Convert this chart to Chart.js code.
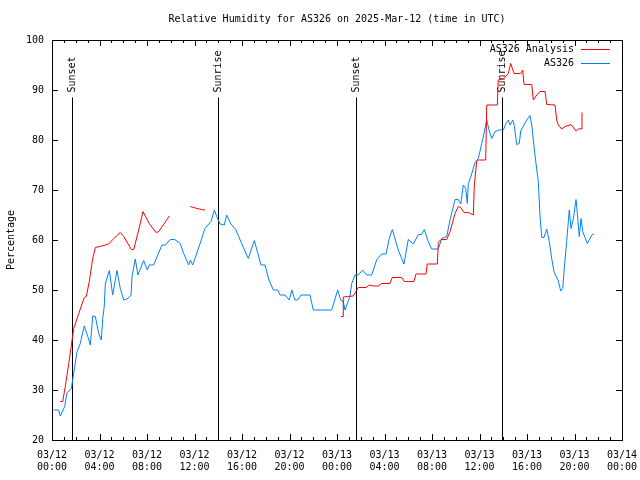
<!DOCTYPE html>
<html>
<head>
<meta charset="utf-8">
<script src="https://cdn.jsdelivr.net/npm/chart.js@4"></script>
<style>
html, body { margin: 0; padding: 0; background: #fff; }
</style>
</head>
<body>
<canvas id="c" width="640" height="480"></canvas>
<script>
// x values are hours since 2025-03-12 00:00 UTC
const tickDates = ["03/12", "03/12", "03/12", "03/12", "03/12", "03/12", "03/13", "03/13", "03/13", "03/13", "03/13", "03/13", "03/14"];
const tickTimes = ["00:00", "04:00", "08:00", "12:00", "16:00", "20:00", "00:00", "04:00", "08:00", "12:00", "16:00", "20:00", "00:00"];

const obsHours = [0.14, 0.56, 0.70, 1.07, 1.26, 1.63, 1.83, 2.11, 2.38, 2.72, 3.01, 3.23, 3.43, 3.65, 3.93, 4.15, 4.27, 4.40, 4.49, 4.83,
  5.11, 5.47, 5.75, 6.04, 6.32, 6.65, 6.74, 7.01, 7.24, 7.72, 8.03, 8.19, 8.56, 9.26, 9.54, 9.96, 10.33, 10.80, 11.09, 11.51,
  11.65, 11.85, 12.04, 12.57, 12.74, 12.88, 13.39, 13.67, 13.87, 14.15, 14.51, 14.71, 15.07, 15.47, 15.97, 16.53, 17.04, 17.60, 17.94, 18.27,
  18.64, 19.01, 19.20, 19.62, 19.98, 20.19, 20.46, 20.69, 20.97, 21.73, 22.00, 23.55, 24.06, 24.31, 24.53, 24.67, 25.09, 25.24, 25.52, 25.79,
  26.16, 26.50, 26.92, 27.34, 27.76, 28.13, 28.40, 28.66, 29.16, 29.64, 30.00, 30.43, 30.85, 31.13, 31.35, 31.69, 31.97, 32.53, 32.82, 33.24,
  33.52, 33.94, 34.21, 34.42, 34.64, 34.84, 34.97, 35.06, 35.28, 35.62, 35.90, 36.19, 36.38, 36.61, 36.80, 37.03, 37.31, 37.67, 38.01, 38.23,
  38.43, 38.57, 38.80, 38.93, 39.13, 39.35, 39.47, 39.75, 39.97, 40.25, 40.40, 40.67, 40.95, 41.09, 41.24, 41.43, 41.66, 41.88, 42.08, 42.27,
  42.64, 42.84, 43.01, 43.14, 43.34, 43.56, 43.71, 43.91, 44.13, 44.24, 44.40, 44.55, 44.69, 45.08, 45.45, 45.64];
const obsValues = [26, 26, 24.8, 26.7, 29.4, 30.3, 33.4, 37.7, 39.3, 42.8, 40.7, 39, 44.8, 44.7, 41.3, 40, 44.3, 46.7, 51.3, 53.9,
  49, 53.9, 50.3, 48, 48.2, 48.9, 52.7, 56.2, 53, 55.9, 54, 55, 55, 59, 59, 60.1, 60.1, 59.3, 57.3, 55,
  56, 55, 56.3, 60, 61.3, 62.3, 63.7, 66, 64.7, 63.2, 63, 65, 63.2, 62.1, 59.3, 56.3, 59.9, 55, 55, 52,
  50, 50, 49, 49, 48, 50, 48, 48, 49, 49, 46, 46, 50, 48, 47.7, 46, 48.7, 51.3, 53, 53,
  54, 53, 53, 56, 57.2, 57.2, 60.3, 62.1, 58, 55.2, 60.1, 59.2, 61.1, 61.1, 62.1, 59.7, 58.2, 58.2, 60.3, 60.7,
  64, 68.1, 68.1, 67.2, 71, 70.3, 67.3, 71.3, 72.7, 75.5, 76.3, 79.3, 81.3, 84, 82, 80.3, 81.7, 82, 82, 83.3,
  84, 83, 84, 82.9, 79.1, 79.3, 81.8, 83, 84, 84.9, 83, 77, 71.7, 65, 60.5, 60.5, 62.2, 59.7, 56.3, 53.7,
  51.8, 49.8, 50.3, 54.3, 59.7, 66, 62.3, 64.3, 68.1, 65.3, 60.7, 64.3, 61.7, 59.3, 61, 61.2];

const anaHours = [0.70, 0.90, 1.12, 1.41, 1.83, 2.25, 2.72, 2.89, 3.14, 3.43, 3.65, 4.21, 4.77, 5.20, 5.75, 6.04, 6.68, 6.88, 7.30, 7.66,
  8.19, 8.76, 8.99, 9.88, 10.5, 11.65, 12.07, 12.57, 12.88, 20.0,
  24.34, 24.51, 24.53, 24.95, 25.37, 25.60, 25.79, 26.44, 26.72, 27.06, 27.48, 27.76, 28.46, 28.66, 29.45, 29.67, 30.48, 30.65, 31.49, 31.60,
  32.45, 32.53, 32.76, 33.24, 33.52, 33.94, 34.21, 34.42, 34.69, 35.06, 35.48, 35.56, 35.76, 35.90, 36.52, 36.61, 37.50, 37.58, 38.01, 38.43,
  38.63, 38.91, 39.47, 39.64, 39.75, 40.40, 40.53, 40.82, 41.09, 41.52, 41.66, 42.36, 42.50, 42.64, 42.92, 43.20, 43.71, 44.13, 44.40, 44.55, 44.63];
const anaValues = [27.7, 27.7, 30.7, 35.3, 42.3, 45.3, 48.5, 48.7, 51.7, 56.3, 58.5, 58.8, 59.2, 60.3, 61.5, 60.7, 58.1, 58.1, 62, 65.7,
  63.3, 61.5, 61.7, 64.8, null, 66.7, 66.4, 66.1, 66.0, null,
  44.7, 44.7, 48.6, 48.7, 48.8, 49.7, 50.5, 50.5, 51, 50.8, 50.8, 51.3, 51.3, 52.5, 52.5, 51.7, 51.7, 53.2, 53.2, 55.2,
  55.2, 59.5, 60.1, 60.1, 61.7, 65.3, 66.7, 66.5, 65.5, 65.5, 65, 70.8, 75.7, 76, 76, 87, 87, 92, 92.3, 93.3,
  95.3, 93.3, 93.3, 94, 91.1, 91.1, 88, 89, 89.7, 89.7, 87.1, 87, 84, 83, 82.2, 82.7, 83.1, 81.8, 82.3, 82.2, 85.5];

const sunHours = [1.68, 13.98, 25.6, 37.9];
const sunLabels = ["Sunset", "Sunrise", "Sunset", "Sunrise"];
const sunLineTop = 88.5;

const FONT = "10px 'DejaVu Sans Mono'";

function toPoints(xs, ys) {
  return xs.map((x, i) => ({ x: x, y: ys[i] }));
}

const gnuplotBits = {
  id: "gnuplotBits",
  beforeDatasetsDraw(chart) {
    const ctx = chart.ctx;
    const xs = chart.scales.x, ys = chart.scales.y;
    const bottom = chart.chartArea.bottom;
    const yTop = ys.getPixelForValue(sunLineTop);
    ctx.save();
    ctx.strokeStyle = "#000";
    ctx.fillStyle = "#000";
    ctx.lineWidth = 1;
    ctx.font = FONT;
    sunHours.forEach((h, i) => {
      const px = Math.round(xs.getPixelForValue(h)) + 0.5;
      ctx.beginPath();
      ctx.moveTo(px, bottom);
      ctx.lineTo(px, yTop);
      ctx.stroke();
      ctx.save();
      ctx.translate(px, yTop - 5);
      ctx.rotate(-Math.PI / 2);
      ctx.textAlign = "left";
      ctx.textBaseline = "middle";
      ctx.fillText(sunLabels[i], 0, 0);
      ctx.restore();
    });
    ctx.restore();
  },
  afterDraw(chart) {
    const ctx = chart.ctx;
    const xs = chart.scales.x, ys = chart.scales.y;
    const { left, right, top, bottom } = chart.chartArea;
    ctx.save();
    ctx.strokeStyle = "#000";
    ctx.fillStyle = "#000";
    ctx.lineWidth = 1;
    ctx.strokeRect(Math.round(left) + 0.5, Math.round(top) + 0.5, Math.round(right - left), Math.round(bottom - top));
    ctx.beginPath();
    for (let h = 0; h <= 48; h++) {
      const len = h % 4 === 0 ? 6 : 3;
      const px = Math.round(xs.getPixelForValue(h)) + 0.5;
      ctx.moveTo(px, bottom); ctx.lineTo(px, bottom - len);
      ctx.moveTo(px, top); ctx.lineTo(px, top + len);
    }
    for (let v = 20; v <= 100; v += 10) {
      const py = Math.round(ys.getPixelForValue(v)) + 0.5;
      ctx.moveTo(left, py); ctx.lineTo(left + 6, py);
      ctx.moveTo(right, py); ctx.lineTo(right - 6, py);
    }
    ctx.stroke();

    // title
    ctx.font = FONT;
    ctx.textAlign = "center";
    ctx.textBaseline = "middle";
    ctx.fillText("Relative Humidity for AS326 on 2025-Mar-12 (time in UTC)", (left + right) / 2, 19);

    // legend
    ctx.textAlign = "right";
    chart.data.datasets.forEach((ds, i) => {
      const y = 49 + i * 14;
      ctx.fillStyle = "#000";
      ctx.fillText(ds.label, 574, y);
      ctx.strokeStyle = ds.borderColor;
      ctx.beginPath();
      ctx.moveTo(581, y + 0.5);
      ctx.lineTo(610, y + 0.5);
      ctx.stroke();
    });
    ctx.restore();
  }
};

Chart.defaults.font.family = "'DejaVu Sans Mono'";
Chart.defaults.font.size = 10;
Chart.defaults.color = "#000";

new Chart(document.getElementById("c"), {
  type: "line",
  data: {
    datasets: [
      {
        label: "AS326 Analysis",
        data: toPoints(anaHours, anaValues),
        borderColor: "#ff0000",
        borderWidth: 1,
        pointRadius: 0,
        spanGaps: false,
        fill: false
      },
      {
        label: "AS326",
        data: toPoints(obsHours, obsValues),
        borderColor: "#0080ff",
        borderWidth: 1,
        pointRadius: 0,
        fill: false
      }
    ]
  },
  options: {
    responsive: false,
    animation: false,
    devicePixelRatio: 1,
    layout: { padding: { top: 40, right: 18, left: 0, bottom: 0 } },
    plugins: {
      legend: { display: false },
      title: { display: false },
      tooltip: { enabled: false }
    },
    scales: {
      x: {
        type: "linear",
        min: 0,
        max: 48,
        grid: { display: false, drawTicks: false },
        border: { display: false },
        afterFit(s) {
          s.height = 40;
          s.paddingLeft = 0;
          s.paddingRight = 0;
        },
        ticks: {
          stepSize: 4,
          padding: 9,
          maxRotation: 0,
          autoSkip: false,
          callback: (v) => [tickDates[v / 4], tickTimes[v / 4]]
        }
      },
      y: {
        min: 20,
        max: 100,
        grid: { display: false, drawTicks: false },
        border: { display: false },
        afterFit(s) { s.width = 52; },
        ticks: { stepSize: 10, padding: 8 },
        title: {
          display: true,
          text: "Percentage",
          padding: { top: 5, bottom: 0 }
        }
      }
    }
  },
  plugins: [gnuplotBits]
});
</script>
</body>
</html>
